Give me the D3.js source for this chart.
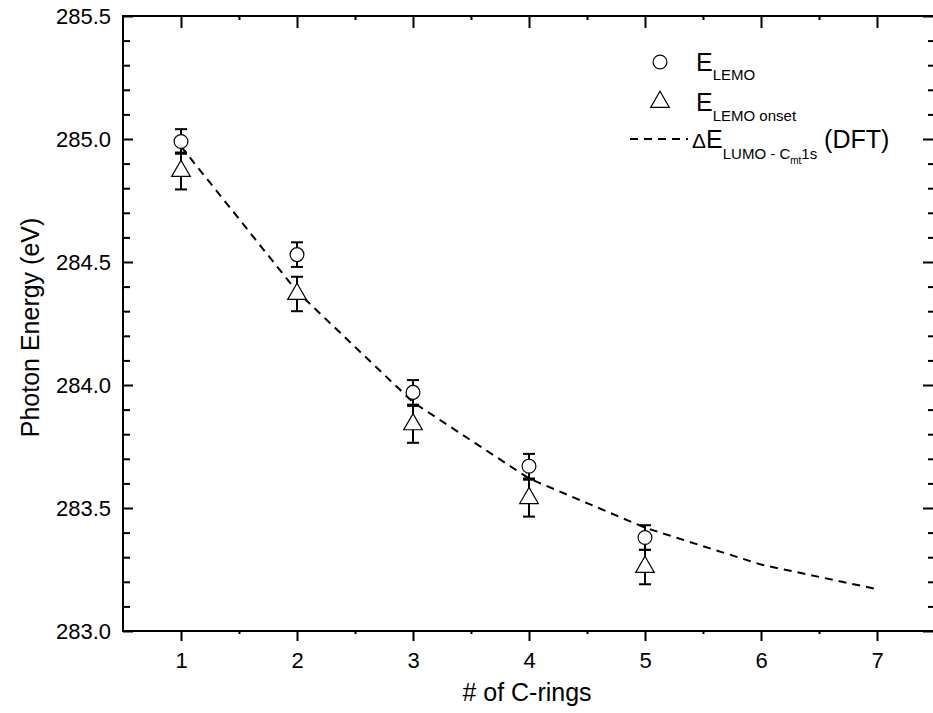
<!DOCTYPE html>
<html>
<head>
<meta charset="utf-8">
<script src="https://cdn.jsdelivr.net/npm/d3@7"></script>
<style>
  body { margin: 0; background: #fff; }
  svg { display: block; font-family: Arial, 'Liberation Sans', sans-serif; }
</style>
</head>
<body>
<svg id="chart" width="933" height="713"></svg>
<script>
// data
var rings = [ 1, 2, 3, 4, 5 ];
var eLemo = [ 284.99, 284.53, 283.97, 283.67, 283.38 ];
var eLemoErr = [ 0.05, 0.05, 0.05, 0.05, 0.05 ];
var eOnset = [ 284.87, 284.37, 283.84, 283.54, 283.26 ];
var eOnsetErr = [ 0.075, 0.07, 0.075, 0.075, 0.07 ];
var dftRings = [ 1, 2, 3, 4, 5, 6, 7 ];
var dftVals = [ 284.97, 284.38, 283.93, 283.62, 283.42, 283.27, 283.17 ];

var xTicks = [ 1, 2, 3, 4, 5, 6, 7 ];
var xMinor = [ 1.5, 2.5, 3.5, 4.5, 5.5, 6.5, 7.5 ];
var yTicks = [ 283.0, 283.5, 284.0, 284.5, 285.0, 285.5 ];
var yMinor = d3.range( 283.1, 285.5, 0.1 ).filter( function( v ) {
	return Math.abs( v * 2 - Math.round( v * 2 ) ) > 0.01;
} );

var svg = d3.select( '#chart' );

var plotLeft = 123, plotRight = 935, plotTop = 16, plotBottom = 631;

var x = d3.scaleLinear().domain( [ 0.5, 7.5 ] ).range( [ plotLeft, plotRight ] );
var y = d3.scaleLinear().domain( [ 283, 285.5 ] ).range( [ plotBottom, plotTop ] );

// axes
function styleAxis( g ) {
	g.select( '.domain' ).remove();
	g.selectAll( '.tick line' ).attr( 'stroke', '#000' ).attr( 'stroke-width', 2 );
	g.selectAll( '.tick text' ).attr( 'fill', '#000' ).attr( 'font-size', '22px' )
		.attr( 'font-family', 'Arial, Liberation Sans, sans-serif' );
}

svg.append( 'g' )
	.attr( 'transform', 'translate(0,' + plotBottom + ')' )
	.call( d3.axisBottom( x ).tickValues( xTicks ).tickSize( 10 ).tickPadding( 11 ).tickFormat( d3.format( 'd' ) ) )
	.call( styleAxis );

svg.append( 'g' )
	.attr( 'transform', 'translate(0,' + plotBottom + ')' )
	.call( d3.axisBottom( x ).tickValues( xMinor ).tickSize( 3 ).tickFormat( '' ) )
	.call( styleAxis );

svg.append( 'g' )
	.attr( 'transform', 'translate(0,' + plotTop + ')' )
	.call( d3.axisTop( x ).tickValues( xTicks ).tickSize( -12 ).tickFormat( '' ) )
	.call( styleAxis );

svg.append( 'g' )
	.attr( 'transform', 'translate(0,' + plotTop + ')' )
	.call( d3.axisTop( x ).tickValues( xMinor ).tickSize( -4 ).tickFormat( '' ) )
	.call( styleAxis );

svg.append( 'g' )
	.attr( 'transform', 'translate(' + plotLeft + ',0)' )
	.call( d3.axisLeft( y ).tickValues( yTicks ).tickSize( -10 ).tickPadding( 12 ).tickFormat( d3.format( '.1f' ) ) )
	.call( styleAxis );

svg.append( 'g' )
	.attr( 'transform', 'translate(' + plotLeft + ',0)' )
	.call( d3.axisLeft( y ).tickValues( yMinor ).tickSize( -7 ).tickFormat( '' ) )
	.call( styleAxis );

svg.append( 'g' )
	.attr( 'transform', 'translate(' + plotRight + ',0)' )
	.call( d3.axisRight( y ).tickValues( yTicks ).tickSize( -12 ).tickFormat( '' ) )
	.call( styleAxis );

svg.append( 'g' )
	.attr( 'transform', 'translate(' + plotRight + ',0)' )
	.call( d3.axisRight( y ).tickValues( yMinor ).tickSize( -7 ).tickFormat( '' ) )
	.call( styleAxis );

// frame
svg.append( 'rect' )
	.attr( 'x', plotLeft ).attr( 'y', plotTop )
	.attr( 'width', plotRight - plotLeft ).attr( 'height', plotBottom - plotTop )
	.attr( 'fill', 'none' ).attr( 'stroke', '#000' ).attr( 'stroke-width', 2 );

// axis titles
svg.append( 'text' )
	.attr( 'x', ( plotLeft + plotRight ) / 2 - 2 ).attr( 'y', 701 )
	.attr( 'text-anchor', 'middle' ).attr( 'font-size', '25px' )
	.text( '# of C-rings' );

svg.append( 'text' )
	.attr( 'transform', 'translate(39,' + ( ( plotTop + plotBottom ) / 2 + 4 ) + ') rotate(-90)' )
	.attr( 'text-anchor', 'middle' ).attr( 'font-size', '25px' )
	.text( 'Photon Energy (eV)' );

// DFT dashed line
var line = d3.line()
	.x( function( d, i ) { return x( dftRings[ i ] ); } )
	.y( function( d ) { return y( d ); } );

svg.append( 'path' )
	.datum( dftVals )
	.attr( 'd', line )
	.attr( 'fill', 'none' ).attr( 'stroke', '#000' )
	.attr( 'stroke-width', 2 ).attr( 'stroke-dasharray', '8,6' );

// error bars
function errorBars( vals, errs ) {
	var g = svg.append( 'g' ).attr( 'stroke', '#000' ).attr( 'stroke-width', 2 );
	rings.forEach( function( r, i ) {
		var cx = x( r ), y0 = y( vals[ i ] - errs[ i ] ), y1 = y( vals[ i ] + errs[ i ] );
		g.append( 'line' ).attr( 'x1', cx ).attr( 'x2', cx ).attr( 'y1', y0 ).attr( 'y2', y1 );
		g.append( 'line' ).attr( 'x1', cx - 6 ).attr( 'x2', cx + 6 ).attr( 'y1', y0 ).attr( 'y2', y0 );
		g.append( 'line' ).attr( 'x1', cx - 6 ).attr( 'x2', cx + 6 ).attr( 'y1', y1 ).attr( 'y2', y1 );
	} );
}
errorBars( eLemo, eLemoErr );
errorBars( eOnset, eOnsetErr );

var circleSym = d3.symbol().type( d3.symbolCircle ).size( 150 );
var triSym = d3.symbol().type( d3.symbolTriangle ).size( 150 );

svg.selectAll( '.circ' )
	.data( eLemo ).enter()
	.append( 'path' )
	.attr( 'class', 'circ' )
	.attr( 'd', circleSym )
	.attr( 'transform', function( d, i ) { return 'translate(' + x( rings[ i ] ) + ',' + y( d ) + ')'; } )
	.attr( 'fill', '#fff' ).attr( 'stroke', '#000' ).attr( 'stroke-width', 1.2 );

svg.selectAll( '.tri' )
	.data( eOnset ).enter()
	.append( 'path' )
	.attr( 'class', 'tri' )
	.attr( 'd', triSym )
	.attr( 'transform', function( d, i ) { return 'translate(' + x( rings[ i ] ) + ',' + y( d ) + ')'; } )
	.attr( 'fill', '#fff' ).attr( 'stroke', '#000' ).attr( 'stroke-width', 1.2 );

// legend
var legend = svg.append( 'g' );

legend.append( 'path' ).attr( 'd', circleSym )
	.attr( 'transform', 'translate(660,62)' )
	.attr( 'fill', '#fff' ).attr( 'stroke', '#000' ).attr( 'stroke-width', 1.2 );
legend.append( 'path' ).attr( 'd', triSym )
	.attr( 'transform', 'translate(660,102)' )
	.attr( 'fill', '#fff' ).attr( 'stroke', '#000' ).attr( 'stroke-width', 1.2 );
legend.append( 'line' )
	.attr( 'x1', 630 ).attr( 'x2', 688 ).attr( 'y1', 139 ).attr( 'y2', 139 )
	.attr( 'stroke', '#000' ).attr( 'stroke-width', 2 ).attr( 'stroke-dasharray', '8,6' );

var t1 = legend.append( 'text' ).attr( 'x', 696 ).attr( 'y', 71 ).attr( 'font-size', '25px' );
t1.append( 'tspan' ).text( 'E' );
t1.append( 'tspan' ).attr( 'dy', 9 ).attr( 'font-size', '15px' ).text( 'LEMO' );

var t2 = legend.append( 'text' ).attr( 'x', 696 ).attr( 'y', 111 ).attr( 'font-size', '25px' );
t2.append( 'tspan' ).text( 'E' );
t2.append( 'tspan' ).attr( 'dy', 10 ).attr( 'font-size', '15px' ).text( 'LEMO onset' );

var t3 = legend.append( 'text' ).attr( 'x', 692 ).attr( 'y', 148 ).attr( 'font-size', '25px' );
t3.append( 'tspan' ).attr( 'font-size', '21px' ).text( '\u0394' );
t3.append( 'tspan' ).text( 'E' );
t3.append( 'tspan' ).attr( 'dy', 11 ).attr( 'font-size', '15px' ).text( 'LUMO - C' );
t3.append( 'tspan' ).attr( 'dy', 5 ).attr( 'font-size', '10px' ).text( 'mt' );
t3.append( 'tspan' ).attr( 'dy', -5 ).attr( 'font-size', '15px' ).text( '1s' );
t3.append( 'tspan' ).attr( 'dy', -11 ).text( ' (DFT)' );
</script>
</body>
</html>
